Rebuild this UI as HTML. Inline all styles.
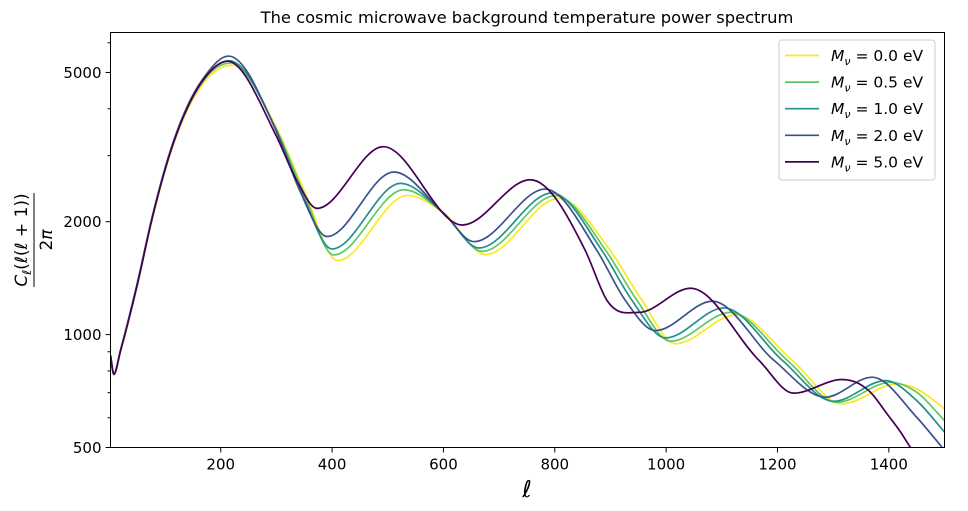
<!DOCTYPE html>
<html><head><meta charset="utf-8"><style>
body{margin:0;background:#fff;}
svg text{font-family:"DejaVu Sans","Liberation Sans",sans-serif;}
</style></head><body>
<svg id="chart" width="968" height="506" viewBox="0 0 968 506" xmlns="http://www.w3.org/2000/svg">
<rect width="968" height="506" fill="#fff"/>
<text x="527" y="23" font-size="16.3" text-anchor="middle">The cosmic microwave background temperature power spectrum</text>
<g id="axes"></g>
<g id="series"></g>
<rect x="110.5" y="32.5" width="834" height="415" fill="none" stroke="#000" stroke-width="1"/>
<text x="527" y="497" font-size="23" font-style="italic" text-anchor="middle" font-family="DejaVu Serif, serif">ℓ</text>
<g transform="translate(32,240) rotate(-90)">
<text x="0" y="-5" font-size="17" text-anchor="middle"><tspan font-style="italic">C</tspan><tspan font-size="12" dy="4" font-style="italic">ℓ</tspan><tspan dy="-4">(</tspan><tspan font-style="italic">ℓ</tspan>(<tspan font-style="italic">ℓ</tspan> + 1))</text>
<line x1="-47" x2="47" y1="2" y2="2" stroke="#000" stroke-width="1"/>
<text x="0" y="20" font-size="17" text-anchor="middle">2<tspan font-style="italic">π</tspan></text>
</g>
<g id="legend"></g>
</svg>
<script>
const categories = ["0.0", "0.5", "1.0", "2.0", "5.0"];
const colors = ["#fde725", "#5ec962", "#21918c", "#3b528b", "#440154"];
const xTicks = [200, 400, 600, 800, 1000, 1200, 1400];
const yTicks = [500, 1000, 2000, 5000];
const yMinorTicks = [600, 700, 800, 900, 3000, 4000, 6000];
const ell0 = [2,8,20,50,77,110,146,172,221,300,350,410,535,600,676,807,900,957,1017,1125,1227,1316,1415,1450,1500];
const val0 = [880,780,900,1350,2030,3050,4130,4750,5230,3560,2420,1575,2350,2110,1634,2308,1673,1232,945,1128,853,654,739,717,634];
const ell1 = [2,8,20,50,77,110,146,172,218,300,348,403,529,600,670,801,892,948,1008,1116,1218,1307,1403,1450,1500];
const val1 = [880,782,905,1360,2050,3080,4180,4820,5300,3520,2410,1631,2433,2110,1667,2346,1673,1232,960,1146,853,660,746,702,590];
const ell2 = [2,8,20,50,77,110,146,172,216,300,345,400,523,600,664,795,885,939,999,1104,1209,1301,1394,1450,1500];
const val2 = [880,784,908,1365,2055,3095,4210,4860,5370,3500,2400,1692,2530,2110,1702,2385,1673,1232,980,1178,853,664,754,667,550];
const ell3 = [2,8,20,50,77,110,146,172,214,300,342,391,511,600,655,783,876,927,981,1083,1194,1286,1370,1450,1496];
const val3 = [880,786,910,1370,2065,3110,4240,4900,5530,3480,2420,1826,2714,2110,1769,2444,1673,1232,1025,1227,853,681,770,602,500];
const ell4 = [2,8,20,50,77,110,146,172,212,300,338,373,492,634,756,855,894,951,1044,1167,1229,1316,1367,1397,1421,1439,1460];
const val4 = [880,784,905,1355,2045,3080,4200,4850,5360,3380,2550,2170,3170,1960,2588,1673,1232,1146,1329,853,698,759,702,614,550,500,455];
const ells = [ell0, ell1, ell2, ell3, ell4];
const vals = [val0, val1, val2, val3, val4];

const X0=110.5, X1=944.5, Y0=32.5, Y1=447.5, LMIN=2, LMAX=1500, VMIN=500, VMAX=6390;
function xs(l){return X0+(l-LMIN)/(LMAX-LMIN)*(X1-X0);}
function ys(v){return Y1-(Math.log(v)-Math.log(VMIN))/(Math.log(VMAX)-Math.log(VMIN))*(Y1-Y0);}
const NS="http://www.w3.org/2000/svg";
const axes=document.getElementById('axes');
function mk(tag,attrs,parent){const e=document.createElementNS(NS,tag);for(const k in attrs)e.setAttribute(k,attrs[k]);parent.appendChild(e);return e;}
xTicks.forEach(t=>{
  const l=mk('line',{x1:xs(t),x2:xs(t),y1:Y1,y2:Y1+5,stroke:'#000'},axes);
  
  
  const tx=mk('text',{x:xs(t),y:Y1+22,'font-size':15,'text-anchor':'middle'},axes);
  tx.textContent=t;
  
  
});
yTicks.forEach(t=>{
  const l=mk('line',{x1:X0-5,x2:X0,y1:ys(t),y2:ys(t),stroke:'#000'},axes);
  
  
  const tx=mk('text',{x:X0-9,y:ys(t)+5.5,'font-size':15,'text-anchor':'end'},axes);
  tx.textContent=t;
  
  
});
yMinorTicks.forEach(t=>{
  const l=mk('line',{x1:X0-3,x2:X0,y1:ys(t),y2:ys(t),stroke:'#000'},axes);
  
  
});
const defs=mk('defs',{},document.getElementById('chart'));
const cp=mk('clipPath',{id:'clip'},defs);
mk('rect',{x:X0,y:Y0,width:X1-X0,height:Y1-Y0},cp);
const sg=document.getElementById('series');
sg.setAttribute('clip-path','url(#clip)');
// Hermite cubic with Bessel tangents, flat at local extrema
function smoothPath(pts){
  const n=pts.length, dx=[], m=[], t=new Array(n);
  for(let i=0;i<n-1;i++){dx.push(pts[i+1][0]-pts[i][0]);m.push((pts[i+1][1]-pts[i][1])/dx[i]);}
  t[0]=m[0]; t[n-1]=m[n-2];
  for(let i=1;i<n-1;i++){
    if(m[i-1]*m[i]<=0) t[i]=0;
    else t[i]=(dx[i]*m[i-1]+dx[i-1]*m[i])/(dx[i-1]+dx[i]);
  }
  let d='M'+pts[0][0].toFixed(2)+','+pts[0][1].toFixed(2);
  for(let i=0;i<n-1;i++){
    const h=dx[i]/3;
    d+=' C'+(pts[i][0]+h).toFixed(2)+','+(pts[i][1]+t[i]*h).toFixed(2)+' '+(pts[i+1][0]-h).toFixed(2)+','+(pts[i+1][1]-t[i+1]*h).toFixed(2)+' '+pts[i+1][0].toFixed(2)+','+pts[i+1][1].toFixed(2);
  }
  return d;
}
categories.forEach((c,i)=>{
  const pts=ells[i].map((l,j)=>[xs(l),ys(vals[i][j])]);
  const p=mk('path',{d:smoothPath(pts),fill:'none',stroke:colors[i],'stroke-width':1.7},sg);
  
  
});
const lg=document.getElementById('legend');
mk('rect',{x:779,y:40,width:156,height:140,rx:3,fill:'#fff','fill-opacity':0.8,stroke:'#ccc'},lg);
categories.forEach((c,i)=>{
  const y=55.5+i*26.6;
  const g=mk('g',{},lg);
  
  
  mk('line',{x1:785,x2:819,y1:y,y2:y,stroke:colors[i],'stroke-width':1.7},g);
  const t=mk('text',{x:831,y:y+5.5,'font-size':15.5},g);
  t.innerHTML='<tspan font-style="italic">M</tspan><tspan font-size="11" dy="4" font-style="italic">ν</tspan><tspan dy="-4"> = '+c+' eV</tspan>';
});
</script>
</body></html>
